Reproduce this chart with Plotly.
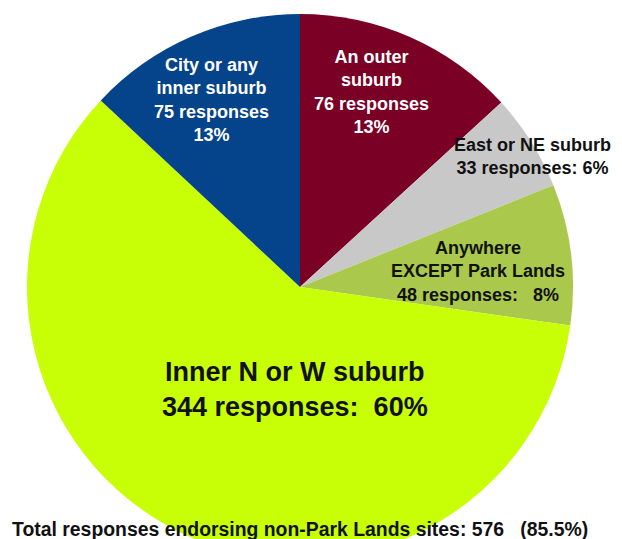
import plotly.graph_objects as go

# Data (clockwise from 12 o'clock)
categories = ["An outer suburb", "East or NE suburb", "Anywhere EXCEPT Park Lands",
              "Inner N or W suburb", "City or any inner suburb"]
responses = [76, 33, 48, 344, 75]
slice_colors = ["#7A0026", "#C8C8C8", "#AAC84C", "#C8FF06", "#05448A"]

label_texts = [
    "An outer<br>suburb<br>76 responses<br>13%",
    "East or NE suburb<br>33 responses: 6%",
    "Anywhere<br>EXCEPT Park Lands<br>48 responses:   8%",
    "Inner N or W suburb<br>344 responses:  60%",
    "City or any<br>inner suburb<br>75 responses<br>13%",
]
label_colors = ["white", "#111111", "#111111", "#111111", "white"]
label_sizes = [18, 18, 18, 27, 18]
# label centres in pixels (x, y from top)
label_pos = [(371, 92), (532, 156), (478, 271), (295, 389), (211, 100)]

footer = "Total responses endorsing non-Park Lands sites: 576   (85.5%)"

W, H = 622, 560
cx, cy, r = 300, 287, 273

fig = go.Figure(go.Pie(
    labels=categories, values=responses, sort=False, direction="clockwise",
    rotation=0, marker=dict(colors=slice_colors, line=dict(width=0)),
    textinfo="none", hoverinfo="label+value+percent", showlegend=False,
    domain=dict(x=[(cx - r) / W, (cx + r) / W], y=[max(0, 1 - (cy + r) / H), 1 - (cy - r) / H]),
))

FONT = "Liberation Sans, Arial, sans-serif"
annotations = []
for txt, col, sz, (px, py) in zip(label_texts, label_colors, label_sizes, label_pos):
    annotations.append(dict(
        x=px / W, y=1 - py / H, xref="paper", yref="paper", text="<b>" + txt + "</b>",
        showarrow=False, xanchor="center", yanchor="middle", align="center",
        font=dict(family=FONT, size=sz, color=col)))
annotations.append(dict(
    x=300 / W, y=1 - 529 / H, xref="paper", yref="paper", text="<b>" + footer + "</b>",
    showarrow=False, xanchor="center", yanchor="middle",
    font=dict(family=FONT, size=19.4, color="#111111")))

fig.update_layout(width=W, height=H, margin=dict(l=0, r=0, t=0, b=0),
                  paper_bgcolor="white", plot_bgcolor="white", annotations=annotations)

fig.write_html("out.html", config={"displayModeBar": False},
               post_script="document.body.style.margin='0';document.body.style.overflow='hidden';")
